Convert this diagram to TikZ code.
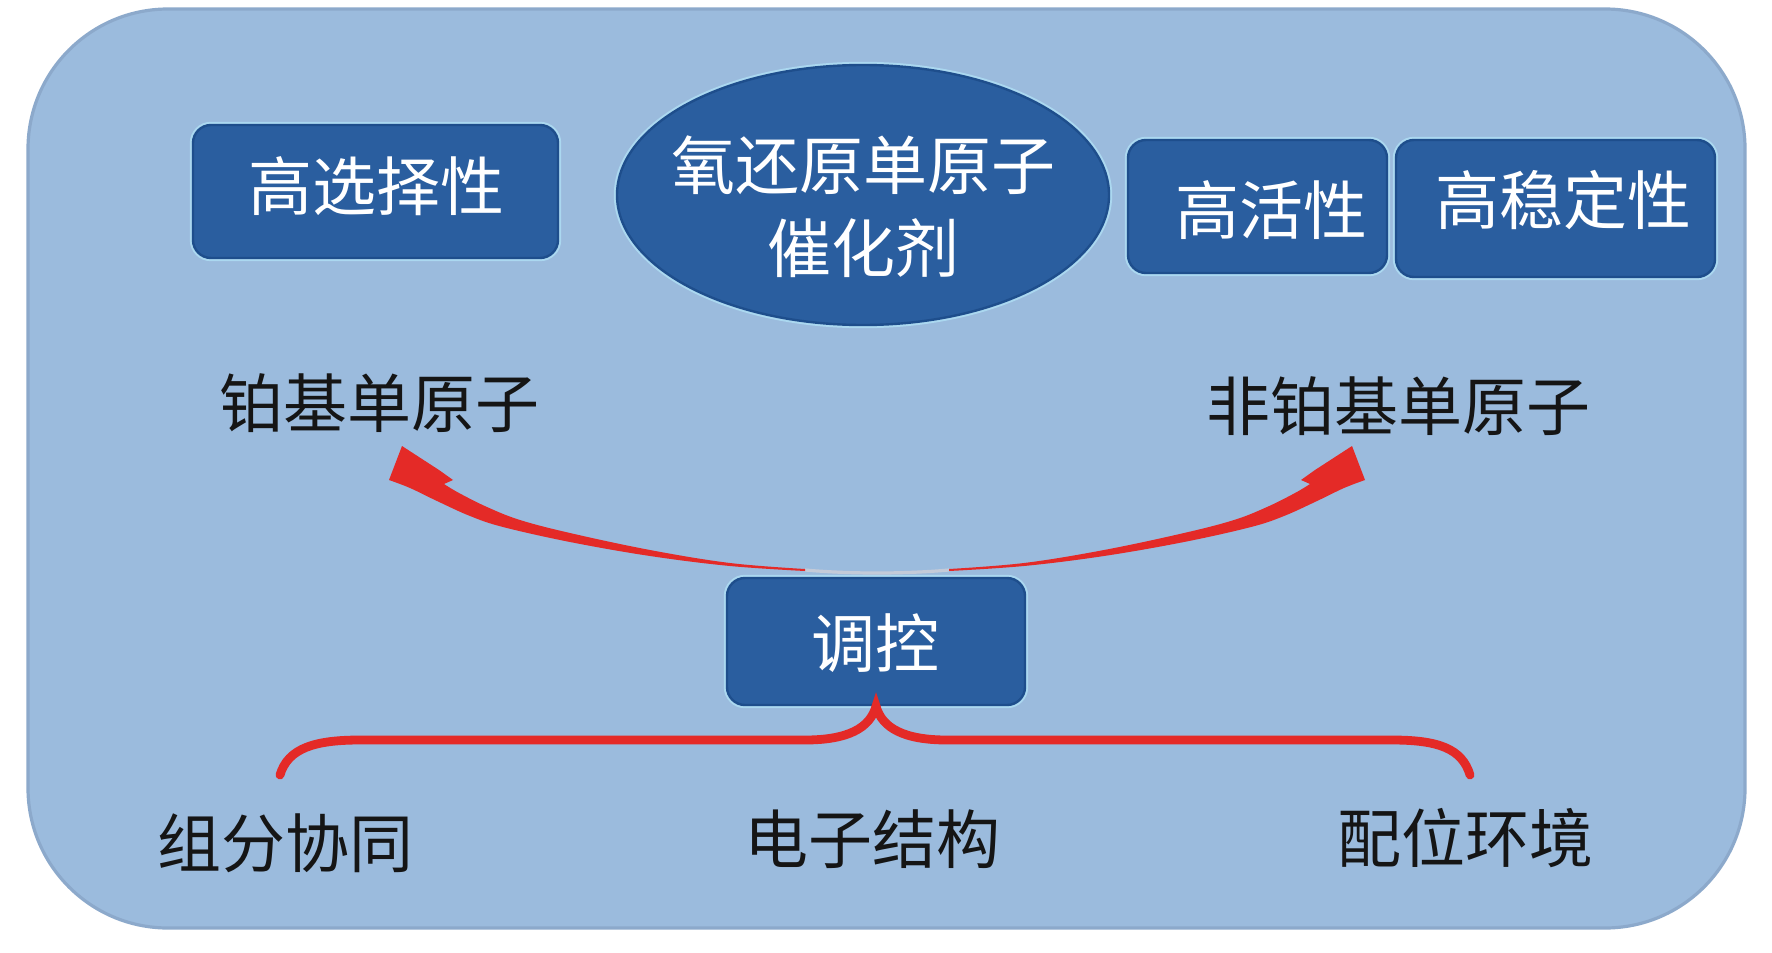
\documentclass[tikz,border=0pt]{standalone}
\usepackage{fontspec}
\newfontfamily\cjk{Noto Sans CJK SC}
\usetikzlibrary{shapes.geometric}
\definecolor{bgblue}{HTML}{9BBBDD}
\definecolor{bgedge}{HTML}{8CA9CB}
\definecolor{boxblue}{HTML}{2A5E9F}
\definecolor{boxedge}{HTML}{1E4E8C}
\definecolor{halo}{HTML}{ABD8F0}
\definecolor{arrowred}{HTML}{E42A27}
\definecolor{inkblack}{HTML}{151515}
\definecolor{fadeline}{HTML}{C3CAD8}
\newcommand\redswoosh{%
  \fill[arrowred] (402,446) -- (389,480)
    -- plot[smooth,tension=0.6] coordinates {(389,480) (410,488) (437,501) (470,516) (503,527) (570,542) (650,556) (730,566) (805,571)}
    -- plot[smooth,tension=0.6] coordinates {(805,569) (730,563) (650,550) (570,533) (520,520) (487,507) (459,493) (444,484)}
    -- (453,480) -- (439,470) -- cycle;}
\begin{document}
\begin{tikzpicture}[x=0.25pt,y=-0.25pt,
  box/.style={draw=boxedge, line width=0.6pt, fill=boxblue, rounded corners=4.5pt, inner sep=0pt,
              preaction={draw=halo, line width=1.6pt}},
  wtext/.style={text=white, font=\cjk\fontsize{16}{20.75}\selectfont, inner sep=0pt, align=center},
  ktext/.style={text=inkblack, font=\cjk\fontsize{16}{20.75}\selectfont, inner sep=0pt},
  bracestyle/.style={draw=arrowred, line width=2.2pt, line cap=round}]
\useasboundingbox (0,0) rectangle (1772,952);
\fill[white] (0,0) rectangle (1772,952);
\path[fill=bgblue, draw=bgedge, line width=0.8pt, rounded corners=35pt] (28,9) rectangle (1745,928);

% top row
\node[box, minimum width=91.25pt, minimum height=33.25pt] (sel) at (375.5,191.5) {};
\node[wtext] (selt) at (376,186) {高选择性};
\node[ellipse, fill=boxblue, draw=boxedge, line width=0.6pt, preaction={draw=halo, line width=1.6pt},
      minimum width=123pt, minimum height=65pt, inner sep=0pt] (core) at (863,195) {};
\node[wtext] (coret) at (863,207) {氧还原单原子\\催化剂};
\node[box, minimum width=64.75pt, minimum height=33.25pt] (act) at (1257.5,206.5) {};
\node[wtext] (actt) at (1271,210) {高活性};
\node[box, minimum width=79.75pt, minimum height=34.25pt] (stab) at (1555.5,208.5) {};
\node[wtext] (stabt) at (1563,200) {高稳定性};

% middle labels
\node[ktext] (pt) at (379,403) {铂基单原子};
\node[ktext] (npt) at (1398,406) {非铂基单原子};

% control box
\node[box, minimum width=74.5pt, minimum height=31.75pt] (ctrl) at (876,641.5) {};
\node[wtext] (ctrlt) at (875,643) {调控};

% bottom labels
\node[ktext] (comp) at (285,843) {组分协同};
\node[ktext] (elec) at (872,839) {电子结构};
\node[ktext] (coord) at (1465,838) {配位环境};

% red curved arrows
\draw[fadeline, line width=0.8pt] (805,570) .. controls (850,574) and (904,574) .. (949,570);
\redswoosh
\begin{scope}[shift={(1754,0)}, xscale=-1]
  \redswoosh
\end{scope}

% brace
\draw[bracestyle] (280,775) .. controls (288,748) and (315,740) .. (360,740) -- (805,740)
  .. controls (848,740) and (870,728) .. (ctrl.south)
  .. controls (882,728) and (904,740) .. (947,740) -- (1392,740)
  .. controls (1437,740) and (1462,748) .. (1470,775);
\end{tikzpicture}
\end{document}
